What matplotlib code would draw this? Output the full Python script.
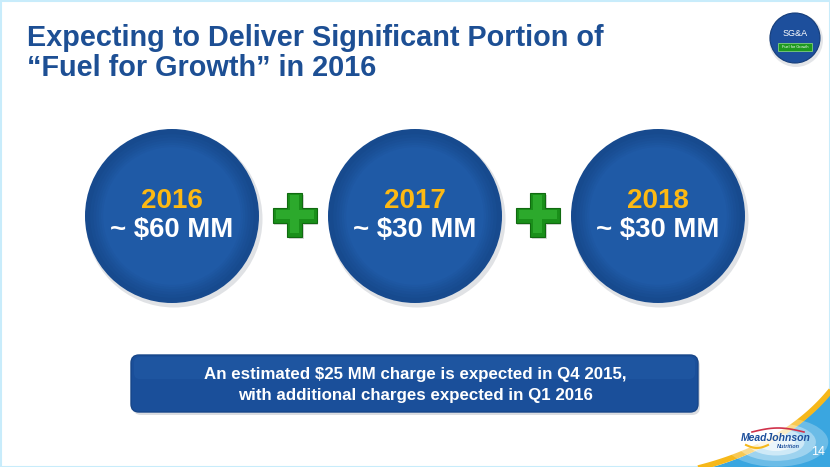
import numpy as np
import matplotlib
matplotlib.use("Agg")
import matplotlib.pyplot as plt
from matplotlib.patches import Circle, FancyBboxPatch, Polygon, Rectangle, Ellipse
from matplotlib.colors import to_rgb

plt.rcParams['font.family'] = ['Liberation Sans', 'DejaVu Sans']

# ---- data ----
years = ["2016", "2017", "2018"]
amounts = [60, 30, 30]
amount_labels = ["~ $%d MM" % a for a in amounts]
title_lines = ["Expecting to Deliver Significant Portion of",
               "\u201cFuel for Growth\u201d in 2016"]
note_lines = ["An estimated $25 MM charge is expected in Q4 2015,",
              "with additional charges expected in Q1 2016"]
page_number = "14"

W, H = 830, 467
fig = plt.figure(figsize=(W / 100, H / 100), dpi=100)
ax = fig.add_axes([0, 0, 1, 1])
ax.set_xlim(0, W)
ax.set_ylim(H, 0)
ax.axis('off')

def mix(c1, c2, f):
    a, b = np.array(to_rgb(c1)), np.array(to_rgb(c2))
    return tuple(a + (b - a) * f)

# background + thin border
ax.add_patch(Rectangle((0, 0), W, H, facecolor='white', edgecolor='none', zorder=0))
ax.add_patch(Rectangle((0.5, 0.5), W - 1, H - 1, facecolor='none', edgecolor='#c8ecfb', lw=1.5, zorder=1))

# bottom-right swoosh
t = np.linspace(0, 1, 60)
p0, p1, p2 = np.array([690, 467]), np.array([785, 445]), np.array([832, 386])
curve = (1 - t)[:, None] ** 2 * p0 + 2 * ((1 - t) * t)[:, None] * p1 + (t ** 2)[:, None] * p2
blue_poly = np.vstack([curve + np.array([0, 6]), [[832, 467]]])
ax.add_patch(Polygon(blue_poly, closed=True, facecolor='#3aa6e0', edgecolor='none', zorder=2))
ax.plot(curve[:, 0], curve[:, 1] + 3, color='#f6b81a', lw=4, zorder=3, solid_capstyle='butt')
for r, a in [(55, 0.25), (42, 0.35), (30, 0.5), (20, 0.6)]:
    ax.add_patch(Ellipse((776, 442), r * 1.9, r * 0.9, facecolor='white', edgecolor='none', alpha=a, zorder=3))
ax.text(776, 438, "MeadJohnson", fontsize=7.5, fontweight='bold', fontstyle='italic',
        color='#1d4f9c', ha='center', va='center', zorder=5)
ax.text(788, 447, "Nutrition", fontsize=4, fontweight='bold', fontstyle='italic',
        color='#1d4f9c', ha='center', va='center', zorder=5)
ax.plot(np.linspace(752, 804, 20), 432 - 4 * np.sin(np.linspace(0, np.pi, 20)), color='#d0314a', lw=1.2, zorder=5)
ax.plot(np.linspace(746, 768, 20), 445 + 3 * np.sin(np.linspace(0, np.pi, 20)), color='#f6b81a', lw=1.5, zorder=5)
ax.text(818, 452, page_number, fontsize=9, color='white', ha='center', va='center', zorder=5)

# title
for i, line in enumerate(title_lines):
    ax.text(27, 38 + 30 * i, line, fontsize=20.8, fontweight='bold', color='#1d4f94',
            ha='left', va='center', zorder=5)

# SG&A icon
ax.add_patch(Circle((796, 40), 27, facecolor='#c9ccd3', edgecolor='none', alpha=0.5, zorder=4))
ax.add_patch(Circle((795, 38), 25, facecolor='#1d4f9c', edgecolor='#153d7a', lw=0.8, zorder=5))
ax.text(795, 34, "SG&A", fontsize=6.5, color='white', ha='center', va='center', zorder=6)
ax.add_patch(Rectangle((778, 43), 34, 8, facecolor='#1e9a1e', edgecolor='#7fd07f', lw=0.6, zorder=6))
ax.text(795, 47, "Fuel for Growth", fontsize=2.8, color='white', ha='center', va='center', zorder=7)

# circles
cx0, dx, cy, R = 172, 243, 216, 87
for i, (yr, lab) in enumerate(zip(years, amount_labels)):
    cx = cx0 + dx * i
    ax.add_patch(Circle((cx + 2, cy + 3), R + 1.5, facecolor='#9aa0aa', edgecolor='none', alpha=0.3, zorder=3))
    n = 25
    for k in range(n):
        f = k / (n - 1)
        rr = R * (1 - 0.55 * f ** 0.7)
        col = mix('#174a8e', '#1f5aa6', min(1, f * 4))
        ax.add_patch(Circle((cx, cy), rr, facecolor=col, edgecolor='none', zorder=4))
    ax.text(cx, cy - 15, yr, fontsize=20, fontweight='bold', color='#fdb913',
            ha='center', va='center', zorder=6)
    ax.text(cx, cy + 14, lab, fontsize=19.8, fontweight='bold', color='white',
            ha='center', va='center', zorder=6)

# plus signs between circles
def plus(cx, cy, s=22, a=7.5):
    pts = [(-a, -s), (a, -s), (a, -a), (s, -a), (s, a), (a, a), (a, s), (-a, s),
           (-a, a), (-s, a), (-s, -a), (-a, -a)]
    return [(cx + x, cy + y) for x, y in pts]

for i in range(len(years) - 1):
    px = cx0 + dx * i + dx / 2 + 1
    ax.add_patch(Polygon([(x + 1.5, y + 2) for x, y in plus(px, 215)], closed=True,
                         facecolor='#808080', alpha=0.3, edgecolor='none', zorder=4))
    ax.add_patch(Polygon(plus(px, 215), closed=True, facecolor='#1a8f1a',
                         edgecolor='#106a10', lw=0.8, zorder=5))
    ax.add_patch(Polygon(plus(px, 214, 19, 4.5), closed=True, facecolor='#33b333',
                         edgecolor='none', alpha=0.75, zorder=6))

# bottom note box
ax.add_patch(FancyBboxPatch((133, 358), 567, 57, boxstyle="round,pad=0,rounding_size=8",
                            facecolor='#9aa0aa', edgecolor='none', alpha=0.35, zorder=3))
ax.add_patch(FancyBboxPatch((131, 355), 567, 57, boxstyle="round,pad=0,rounding_size=8",
                            facecolor='#1a4f9a', edgecolor='#174689', lw=1, zorder=4))
ax.add_patch(FancyBboxPatch((134, 357), 561, 22, boxstyle="round,pad=0,rounding_size=6",
                            facecolor='#2a64b0', edgecolor='none', alpha=0.3, zorder=4))
for i, line in enumerate(note_lines):
    ax.text(415, 374 + 21.5 * i, line, fontsize=12.2, fontweight='bold', color='white',
            ha='center', va='center', zorder=6)

fig.savefig("out.png", dpi=100)
